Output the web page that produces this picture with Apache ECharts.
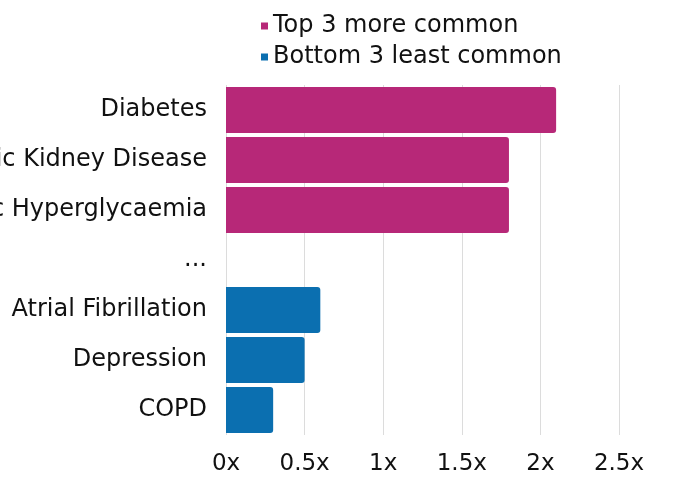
<!DOCTYPE html>
<html>
<head>
<meta charset="utf-8">
<script src="https://cdn.jsdelivr.net/npm/echarts@6/dist/echarts.min.js"></script>
<style>
  html, body { margin: 0; padding: 0; background: #fff; }
  #myChart { width: 692px; height: 477px; }
</style>
</head>
<body>
<div id="myChart"></div>
<script>
// categories listed top to bottom
const categories = ['Diabetes', 'Chronic Kidney Disease', 'Chronic Hyperglycaemia', '...', 'Atrial Fibrillation', 'Depression', 'COPD'];
const topCommon = [2.1, 1.8, 1.8, null, null, null, null];
const bottomCommon = [null, null, null, null, 0.6, 0.5, 0.3];
const xTicks = [0, 0.5, 1, 1.5, 2, 2.5];

const font = 'DejaVu Sans';
let myEchart = echarts.init(document.getElementById('myChart'));
myEchart.setOption({
    animation: false,
    legend: {
        orient: 'vertical',
        left: 256,
        top: 9,
        itemWidth: 7,
        itemHeight: 7,
        itemGap: 7,
        icon: 'rect',
        textStyle: { fontFamily: font, fontSize: 24, color: '#111' },
        data: ['Top 3 more common', 'Bottom 3 least common']
    },
    grid: { left: 226, right: 73, top: 85, bottom: 42, outerBoundsMode: 'none', containLabel: false },
    xAxis: {
        type: 'value',
        min: 0,
        max: 2.5,
        interval: 0.5,
        axisLine: { show: false },
        axisTick: { show: false },
        splitLine: { lineStyle: { color: '#dcdcdc' } },
        axisLabel: {
            fontFamily: font, fontSize: 23, color: '#111', margin: 18,
            formatter: v => xTicks.includes(v) ? v + 'x' : ''
        }
    },
    yAxis: {
        type: 'category',
        inverse: true,
        data: categories,
        axisLine: { show: false },
        axisTick: { show: false },
        axisLabel: { fontFamily: font, fontSize: 24, color: '#111', margin: 19, padding: [2, 0, 0, 0] }
    },
    series: [
        {
            name: 'Top 3 more common',
            type: 'bar',
            data: topCommon,
            barCategoryGap: '8%',
            barGap: '-100%',
            itemStyle: { color: '#b72878', borderRadius: [0, 3, 3, 0] }
        },
        {
            name: 'Bottom 3 least common',
            type: 'bar',
            data: bottomCommon,
            barCategoryGap: '8%',
            barGap: '-100%',
            itemStyle: { color: '#0b6fb0', borderRadius: [0, 3, 3, 0] }
        }
    ]
});
</script>
</body>
</html>
